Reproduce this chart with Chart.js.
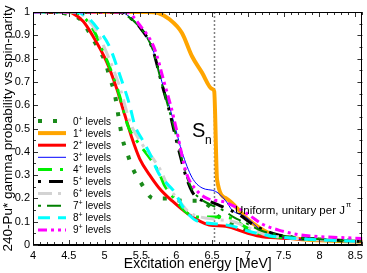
<!DOCTYPE html>
<html>
<head>
<meta charset="utf-8">
<script src="https://cdn.jsdelivr.net/npm/chart.js@4/dist/chart.umd.min.js"></script>
<style>
  html, body { margin: 0; padding: 0; background: #fff; }
  #wrap { width: 367px; height: 273px; }
</style>
</head>
<body>
<div id="wrap"><canvas id="grafico"></canvas></div>
<script>
// spin labels (J of the J+ levels)
const spins = ['0', '1', '2', '3', '4', '5', '6', '7', '8', '9'];

// excitation energy [MeV] and gamma probability per spin-parity
const e0 = [4.0, 4.3, 4.5, 4.67, 4.79, 4.9, 5.01, 5.07, 5.14, 5.2, 5.25, 5.32, 5.39, 5.5, 5.68, 5.88, 6.08, 6.29, 6.45, 6.6, 6.78, 7.0, 7.3, 7.6, 8.0, 8.6];
const p0 = [1, 1, 0.99, 0.966, 0.91, 0.85, 0.785, 0.72, 0.65, 0.54, 0.455, 0.39, 0.33, 0.27, 0.2, 0.2, 0.19, 0.19, 0.17, 0.12, 0.088, 0.06, 0.04, 0.03, 0.024, 0.018];

const e1 = [4.0, 5.6, 5.75, 5.9, 6.08, 6.22, 6.36, 6.5, 6.53, 6.57, 6.7, 7.0, 7.3, 7.6, 8.0, 8.6];
const p1 = [1, 1, 0.995, 0.97, 0.91, 0.81, 0.74, 0.67, 0.66, 0.28, 0.2, 0.11, 0.05, 0.03, 0.02, 0.015];

const e2 = [4.0, 4.5, 4.55, 4.7, 4.83, 5.03, 5.17, 5.25, 5.32, 5.38, 5.49, 5.63, 5.76, 5.94, 6.18, 6.46, 6.69, 7.0, 7.2, 7.6, 8.0, 8.6];
const p2 = [1, 1, 0.995, 0.96, 0.9, 0.785, 0.67, 0.59, 0.52, 0.46, 0.37, 0.3, 0.245, 0.19, 0.13, 0.086, 0.08, 0.05, 0.035, 0.028, 0.022, 0.015];

const e3 = [4.0, 5.2, 5.3, 5.49, 5.67, 5.8, 5.9, 5.99, 6.08, 6.22, 6.36, 6.55, 6.69, 6.78, 6.97, 7.2, 7.5, 8.0, 8.6];
const p3 = [1, 1, 0.99, 0.935, 0.84, 0.7, 0.6, 0.5, 0.4, 0.29, 0.245, 0.23, 0.19, 0.15, 0.12, 0.06, 0.03, 0.02, 0.015];

const e4 = [4.0, 4.55, 4.7, 4.85, 4.96, 5.1, 5.18, 5.28, 5.32, 5.49, 5.65, 5.76, 5.83, 6.0, 6.14, 6.3, 6.55, 6.78, 6.95, 7.2, 7.6, 8.0, 8.6];
const p4 = [1, 1, 0.98, 0.92, 0.845, 0.74, 0.67, 0.56, 0.515, 0.43, 0.365, 0.31, 0.26, 0.19, 0.14, 0.12, 0.12, 0.115, 0.08, 0.045, 0.03, 0.022, 0.015];

const e5 = [4.0, 5.2, 5.25, 5.49, 5.67, 5.8, 5.9, 5.97, 6.05, 6.14, 6.22, 6.3, 6.48, 6.6, 6.75, 6.88, 7.06, 7.22, 7.4, 7.6, 8.0, 8.6];
const p5 = [1, 1, 0.995, 0.935, 0.84, 0.69, 0.58, 0.49, 0.39, 0.29, 0.23, 0.2, 0.185, 0.17, 0.15, 0.13, 0.09, 0.065, 0.045, 0.035, 0.025, 0.015];

const e6 = [4.0, 4.58, 4.72, 4.88, 5.0, 5.14, 5.22, 5.32, 5.37, 5.53, 5.69, 5.8, 5.87, 6.04, 6.18, 6.34, 6.55, 6.8, 7.0, 7.25, 7.6, 8.0, 8.6];
const p6 = [1, 1, 0.98, 0.92, 0.845, 0.74, 0.67, 0.56, 0.515, 0.43, 0.365, 0.31, 0.26, 0.19, 0.14, 0.12, 0.11, 0.1, 0.075, 0.045, 0.03, 0.022, 0.015];

const e7 = [4.0, 5.2, 5.25, 5.49, 5.67, 5.8, 5.9, 5.98, 6.06, 6.15, 6.24, 6.33, 6.5, 6.65, 6.8, 7.0, 7.2, 7.4, 7.6, 8.0, 8.6];
const p7 = [1, 1, 0.995, 0.935, 0.84, 0.69, 0.58, 0.49, 0.39, 0.29, 0.23, 0.2, 0.17, 0.15, 0.12, 0.09, 0.06, 0.045, 0.035, 0.025, 0.015];

const e8 = [4.0, 4.6, 4.75, 4.9, 5.07, 5.2, 5.35, 5.42, 5.53, 5.65, 5.75, 5.85, 5.97, 6.1, 6.25, 6.42, 6.6, 6.8, 7.0, 7.3, 7.6, 8.0, 8.6];
const p8 = [1, 1, 0.98, 0.93, 0.85, 0.74, 0.6, 0.515, 0.45, 0.38, 0.31, 0.27, 0.23, 0.16, 0.11, 0.094, 0.09, 0.08, 0.06, 0.04, 0.03, 0.022, 0.015];

const e9 = [4.0, 5.3, 5.5, 5.7, 5.83, 5.93, 6.0, 6.14, 6.28, 6.43, 6.67, 6.85, 7.01, 7.2, 7.43, 7.7, 7.99, 8.3, 8.6];
const p9 = [1, 1, 0.94, 0.84, 0.7, 0.59, 0.5, 0.31, 0.236, 0.2, 0.185, 0.16, 0.13, 0.09, 0.064, 0.045, 0.036, 0.032, 0.028];

// neutron separation energy
const sn = [6.534];

const energias = [e0, e1, e2, e3, e4, e5, e6, e7, e8, e9];
const probs = [p0, p1, p2, p3, p4, p5, p6, p7, p8, p9];

const estilos = [
    { color: '#1a8a1a', width: 4, dash: [4, 11] },
    { color: '#ffa500', width: 4, dash: [] },
    { color: '#ff0000', width: 3, dash: [] },
    { color: '#0000ff', width: 1, dash: [] },
    { color: '#00ee00', width: 3, dash: [14, 8, 3, 8] },
    { color: '#000000', width: 3, dash: [3, 8, 14, 8] },
    { color: '#d3d3d3', width: 3, dash: [14, 6, 3, 6] },
    { color: '#008000', width: 2, dash: [3, 6, 14, 6] },
    { color: '#00ffff', width: 3, dash: [12, 8] },
    { color: '#ff00ff', width: 3, dash: [9, 4, 3, 4, 3, 4] }
];

const FUENTE = '"Liberation Sans", Arial, Helvetica, sans-serif';

const datasets = spins.map((j, i) => ({
    label: j + '+ levels',
    data: energias[i].map((x, k) => ({ x: x, y: probs[i][k] })),
    borderColor: estilos[i].color,
    borderWidth: estilos[i].width,
    borderDash: estilos[i].dash,
    pointRadius: 0,
    fill: false,
    cubicInterpolationMode: 'monotone',
    order: 10 - i
}));

/*
=====================================
TICKS, LEGEND AND LABELS
=====================================
*/

const decoracion = {
    id: 'decoracion',
    beforeDatasetsDraw(chart) {
        const ctx = chart.ctx;
        const a = chart.chartArea;
        const xs = chart.scales.x;
        // dotted line at Sn
        const px = xs.getPixelForValue(sn[0]);
        ctx.save();
        ctx.strokeStyle = '#808080';
        ctx.lineWidth = 1.5;
        ctx.setLineDash([2, 2]);
        ctx.beginPath();
        ctx.moveTo(px, a.top);
        ctx.lineTo(px, a.bottom);
        ctx.stroke();
        ctx.restore();
    },
    afterDraw(chart) {
        const ctx = chart.ctx;
        const a = chart.chartArea;
        const xs = chart.scales.x;
        const ys = chart.scales.y;

        ctx.save();
        ctx.strokeStyle = '#333';
        ctx.lineWidth = 1;

        // x ticks, bottom and top
        for (let k = 0; k <= 46; k++) {
            const v = 4 + k * 0.1;
            const px = Math.round(xs.getPixelForValue(v)) + 0.5;
            const len = (k % 5 === 0) ? 5 : 3;
            ctx.beginPath();
            ctx.moveTo(px, a.bottom);
            ctx.lineTo(px, a.bottom - len);
            ctx.moveTo(px, a.top);
            ctx.lineTo(px, a.top + len);
            ctx.stroke();
        }
        // y ticks, left and right
        for (let k = 0; k <= 20; k++) {
            const v = k * 0.05;
            const py = Math.round(ys.getPixelForValue(v)) + 0.5;
            const len = (k % 2 === 0) ? 5 : 3;
            ctx.beginPath();
            ctx.moveTo(a.left, py);
            ctx.lineTo(a.left + len, py);
            ctx.moveTo(a.right, py);
            ctx.lineTo(a.right - len, py);
            ctx.stroke();
        }
        ctx.restore();

        // legend
        ctx.save();
        chart.data.datasets.forEach((ds, i) => {
            const y = 121 + i * 12.1;
            ctx.strokeStyle = ds.borderColor;
            ctx.lineWidth = ds.borderWidth;
            ctx.setLineDash(ds.borderDash);
            ctx.beginPath();
            ctx.moveTo(38, y);
            ctx.lineTo(66, y);
            ctx.stroke();

            ctx.setLineDash([]);
            ctx.fillStyle = '#000';
            ctx.textBaseline = 'alphabetic';
            ctx.font = '10px ' + FUENTE;
            ctx.fillText(spins[i], 73, y + 3.5);
            let w = ctx.measureText(spins[i]).width;
            ctx.font = '7px ' + FUENTE;
            ctx.fillText('+', 73 + w, y - 0.5);
            w += ctx.measureText('+').width;
            ctx.font = '10px ' + FUENTE;
            ctx.fillText(' levels', 73 + w, y + 3.5);
        });

        // S_n label
        ctx.fillStyle = '#000';
        ctx.font = '20px ' + FUENTE;
        ctx.fillText('S', 192, 137);
        ctx.font = '12px ' + FUENTE;
        ctx.fillText('n', 205, 144);

        // uniform label
        ctx.font = '11.5px ' + FUENTE;
        ctx.fillText('Uniform, unitary per J', 235, 214);
        const wu = ctx.measureText('Uniform, unitary per J').width;
        ctx.font = '7.5px ' + FUENTE;
        ctx.fillText('\u03c0', 236 + wu, 207);
        ctx.restore();
    }
};

new Chart(document.getElementById('grafico'), {
    type: 'line',
    data: { datasets: datasets },
    options: {
        responsive: true,
        maintainAspectRatio: false,
        animation: false,
        layout: { padding: { top: 12, right: 3, left: 0, bottom: 0 } },
        plugins: {
            legend: { display: false },
            tooltip: { enabled: false }
        },
        scales: {
            x: {
                type: 'linear',
                min: 4,
                max: 8.6,
                afterFit: s => { s.height = 28; },
                afterBuildTicks: s => {
                    s.ticks = [4, 4.5, 5, 5.5, 6, 6.5, 7, 7.5, 8, 8.5].map(v => ({ value: v }));
                },
                grid: { display: false, drawTicks: false },
                border: { display: true, color: '#000', width: 1 },
                ticks: {
                    padding: 4,
                    color: '#000',
                    font: { family: FUENTE, size: 11 },
                    maxRotation: 0,
                    callback: v => String(v)
                },
                title: {
                    display: true,
                    text: 'Excitation energy [MeV]',
                    color: '#000',
                    font: { family: FUENTE, size: 14 },
                    padding: { top: 0, bottom: 0 }
                }
            },
            y: {
                type: 'linear',
                min: 0,
                max: 1,
                afterFit: s => { s.width = 33; },
                grid: { display: false, drawTicks: false },
                border: { display: true, color: '#000', width: 1 },
                ticks: {
                    stepSize: 0.1,
                    padding: 3,
                    color: '#000',
                    font: { family: FUENTE, size: 11 },
                    callback: v => String(Math.round(v * 10) / 10)
                },
                title: {
                    display: true,
                    text: '240-Pu* gamma probability vs spin-parity',
                    color: '#000',
                    font: { family: FUENTE, size: 13.5 },
                    padding: { top: 0, bottom: 0 }
                }
            }
        }
    },
    plugins: [decoracion, {
        id: 'marco',
        afterDraw(chart) {
            const a = chart.chartArea;
            const ctx = chart.ctx;
            ctx.save();
            ctx.strokeStyle = '#000';
            ctx.lineWidth = 1;
            ctx.strokeRect(Math.round(a.left) + 0.5, Math.round(a.top) + 0.5, Math.round(a.right - a.left) - 1, Math.round(a.bottom - a.top) - 1);
            ctx.restore();
        }
    }]
});
</script>
</body>
</html>
